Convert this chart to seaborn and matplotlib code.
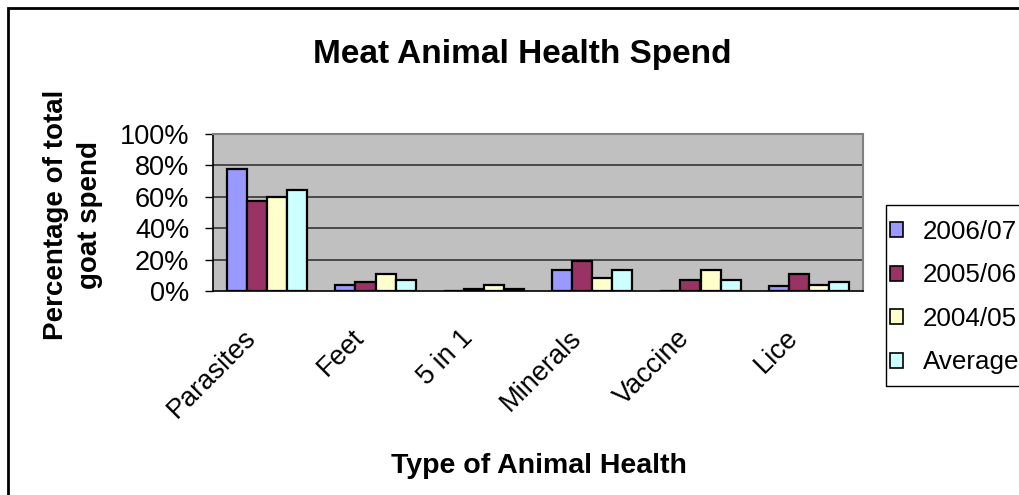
import matplotlib
matplotlib.use("Agg")
import matplotlib.pyplot as plt
import matplotlib.transforms as mtransforms
from matplotlib.patches import Rectangle, Patch
import seaborn as sns
import pandas as pd

# Share of total goat health spend by product type and season
categories = ["Parasites", "Feet", "5 in 1", "Minerals", "Vaccine", "Lice"]
series_names = ["2006/07", "2005/06", "2004/05", "Average"]
spend_2006_07 = [78, 4, 0, 13.5, 0, 3]
spend_2005_06 = [57.5, 5.5, 1, 19, 7, 11]
spend_2004_05 = [60, 11, 4, 8, 13.5, 4]
spend_average = [64.5, 7, 1.5, 13.5, 7, 5.5]
y_ticks = [0, 20, 40, 60, 80, 100]
y_tick_labels = ["0%", "20%", "40%", "60%", "80%", "100%"]
colors = ["#9999FF", "#993366", "#FFFFCC", "#CCFFFF"]

rows = []
for name, vals in zip(series_names, [spend_2006_07, spend_2005_06, spend_2004_05, spend_average]):
    for cat, v in zip(categories, vals):
        rows.append({"Type": cat, "Season": name, "Share": v})
df = pd.DataFrame(rows)

sns.set_theme(style="white")
plt.rcParams["font.family"] = ["Liberation Sans", "DejaVu Sans"]
plt.rcParams.update({"text.color": "black", "axes.labelcolor": "black",
                     "xtick.color": "black", "ytick.color": "black"})

W, H = 1019, 495
fig = plt.figure(figsize=(W / 100, H / 100), dpi=100)
fig.patch.set_facecolor("white")
ax = fig.add_axes([213 / W, 1 - 291 / H, (863 - 213) / W, (291 - 134) / H])

sns.barplot(data=df, x="Type", y="Share", hue="Season", order=categories,
            hue_order=series_names, palette=colors, width=0.74, saturation=1,
            edgecolor="black", linewidth=1.6, legend=False, ax=ax, zorder=3)

ax.set_facecolor("#C0C0C0")
ax.set_xlim(-0.5, len(categories) - 0.5)
ax.set_ylim(0, 100)
ax.set_yticks(y_ticks)
ax.set_yticklabels(y_tick_labels, fontsize=19.5)
for y in y_ticks[1:]:
    ax.axhline(y, color="#404040", lw=1.3, zorder=1)

# category labels at centres, tick marks at boundaries
ax.set_xticks(range(len(categories)))
ax.set_xticklabels(categories, fontsize=19.5, rotation=45, ha="right",
                   va="center", rotation_mode="anchor")
ax.set_xticks([i - 0.5 for i in range(len(categories) + 1)], minor=True)
ax.tick_params(axis="x", which="major", length=0, pad=31)
ax.tick_params(axis="x", which="minor", length=6.5, width=1, color="black", direction="out")
ax.tick_params(axis="y", which="major", length=6, width=1, color="black",
               direction="out", pad=11, left=True)
offset = mtransforms.ScaledTranslation(-15 / 100, 0, fig.dpi_scale_trans)
for lbl in ax.get_xticklabels():
    lbl.set_transform(lbl.get_transform() + offset)

for side in ["left", "bottom"]:
    ax.spines[side].set_color("black")
    ax.spines[side].set_linewidth(1.2)
for side in ["top", "right"]:
    ax.spines[side].set_color("#808080")
    ax.spines[side].set_linewidth(1.5)

ax.set_xlabel("Type of Animal Health", fontsize=20.5, fontweight="bold")
ax.set_ylabel("Percentage of total\ngoat spend", fontsize=20, fontweight="bold",
              linespacing=1.4)
ax.xaxis.set_label_coords((539 - 213) / (863 - 213), (291 - 453) / (291 - 134))
ax.yaxis.set_label_coords((73 - 213) / (863 - 213), (291 - 215) / (291 - 134))
ax.yaxis.label.set_va("center")

fig.text(522 / W, 1 - 54 / H, "Meat Animal Health Spend", fontsize=24,
         fontweight="bold", ha="center", va="center")

handles = [Patch(facecolor=c, edgecolor="black", linewidth=1.2) for c in colors]
leg = fig.legend(handles, series_names, loc="upper left",
                 bbox_to_anchor=(890 / W, 1 - 220 / H), fontsize=18.7,
                 frameon=False, handlelength=0.5, handleheight=0.5,
                 handletextpad=0.75, labelspacing=0.75, borderpad=0,
                 borderaxespad=0)

# legend box, running off the right edge
fig.patches.append(Rectangle((886 / W, 1 - 386 / H), 0.2, (386 - 205) / H,
                             transform=fig.transFigure, fill=False,
                             edgecolor="black", linewidth=1.0))

# outer chart border
fig.patches.append(Rectangle((8 / W, -0.2), 1.2, 1.2 - 8 / H,
                             transform=fig.transFigure, fill=False,
                             edgecolor="black", linewidth=2.0))

fig.savefig("out.png", dpi=100, facecolor="white")
